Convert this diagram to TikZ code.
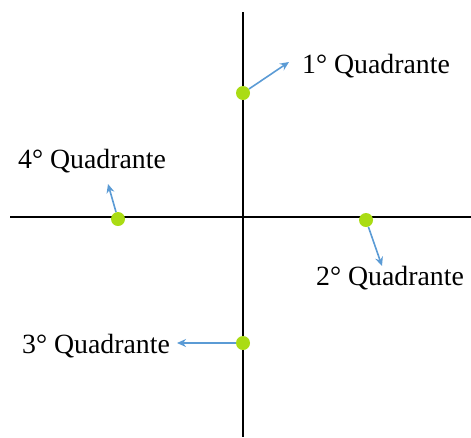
\documentclass[tikz,border=0pt]{standalone}
\usepackage{fontspec}
\setmainfont{Liberation Serif}
\usetikzlibrary{arrows.meta}
\definecolor{marker}{RGB}{170,220,20}
\definecolor{pointer}{RGB}{91,155,213}

\begin{document}
\begin{tikzpicture}[
    x=1pt, y=-1pt,
    axis/.style={line width=1.6pt, draw=black},
    dot/.style={circle, fill=marker, inner sep=0pt, minimum size=14pt},
    pointer/.style={draw=pointer, line width=1.6pt, -{Stealth[length=9pt, width=8pt]}},
    quadrant/.style={font=\fontsize{27.8}{31}\selectfont, inner sep=0pt},
]
    \useasboundingbox (0,0) rectangle (471,437);

    %% the two axes
    \coordinate (top) at (243,12);
    \coordinate (bottom) at (243,437);
    \coordinate (left) at (10,217);
    \coordinate (right) at (471,217);
    \draw[axis] (top) -- (bottom);
    \draw[axis] (left) -- (right);

    %% the points on the axes
    \node[dot] (q1dot) at (243,93) {};
    \node[dot] (q4dot) at (118,219) {};
    \node[dot] (q2dot) at (366,220) {};
    \node[dot] (q3dot) at (243,343) {};

    %% the labels
    \node[quadrant, anchor=base west] (q1) at (302,73) {1° Quadrante};
    \node[quadrant, anchor=base west] (q4) at (18,168) {4° Quadrante};
    \node[quadrant, anchor=base west] (q2) at (316,285) {2° Quadrante};
    \node[quadrant, anchor=base west] (q3) at (22,353) {3° Quadrante};

    %% the little arrows from each point towards its label
    \coordinate (q1tip) at (289,62);
    \coordinate (q4tip) at (108,184);
    \coordinate (q2tip) at (382,266);
    \coordinate (q3tip) at (177,343);
    \draw[pointer] (q1dot) -- (q1tip);
    \draw[pointer] (q4dot) -- (q4tip);
    \draw[pointer] (q2dot) -- (q2tip);
    \draw[pointer] (q3dot) -- (q3tip);
\end{tikzpicture}
\end{document}
